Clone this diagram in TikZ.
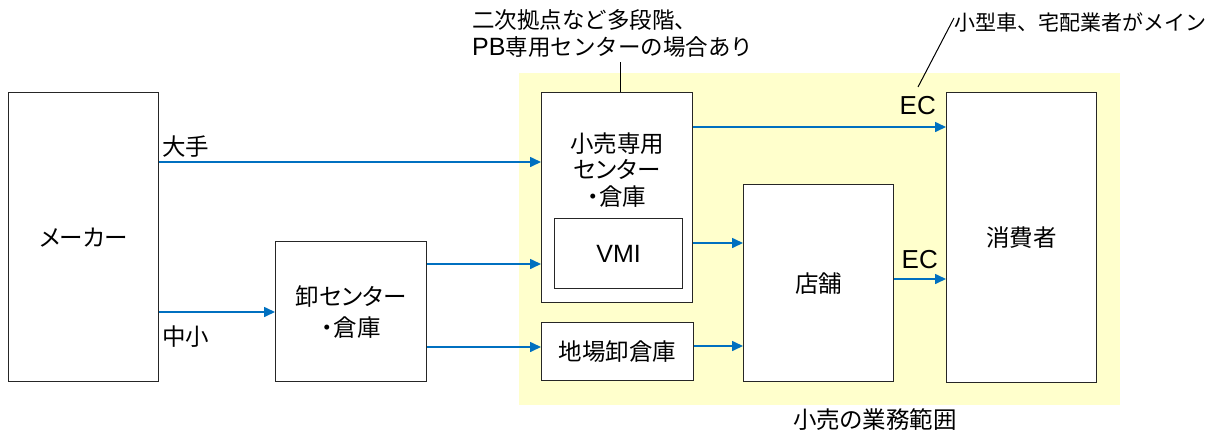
\documentclass[tikz,border=0pt]{standalone}
\usepackage{fontspec}
\setmainfont[RawFeature=+palt]{Noto Sans CJK JP}
\newfontfamily\cjkfix{Noto Sans CJK JP}
\newfontfamily\lat{Liberation Sans}
\usetikzlibrary{arrows.meta}
\definecolor{arrblue}{HTML}{0070C0}
\definecolor{zone}{HTML}{FFFFCC}
\begin{document}
\begin{tikzpicture}[x=1pt,y=-1pt,
  box/.style={draw=black!85,line width=1.3pt,fill=white,anchor=north west,inner sep=0pt,align=center,font=\fontsize{23.5}{31}\selectfont},
  arr/.style={draw=arrblue,line width=1.6pt,-{Triangle[length=11pt,width=10pt]}},
  lbl/.style={inner sep=0pt,font=\fontsize{23.5}{27}\selectfont},
  call/.style={draw=black,line width=1pt}]
\useasboundingbox (0,0) rectangle (1210,434);
\fill[zone] (519,73) rectangle (1120,405);
\node[box,minimum width=150pt,minimum height=289pt] (maker) at (8,92) {メーカー};
\node[box,minimum width=151pt,minimum height=140pt] (oroshi) at (275,241) {卸センター\\・倉庫};
\node[box,minimum width=151pt,minimum height=210pt] (kouri) at (541,92) {};
\node[lbl,align=center,font=\fontsize{23.5}{26.5}\selectfont] (kouritxt) at (617,170) {小売専用\\センター\\・倉庫};
\node[box,minimum width=128pt,minimum height=70pt] (vmi) at (554,218) {\lat\fontsize{25}{30}\selectfont VMI};
\node[box,minimum width=152pt,minimum height=58pt] (jiba) at (541,322) {地場卸倉庫};
\node[box,minimum width=150pt,minimum height=197pt] (tenpo) at (743,184) {店舗};
\node[box,minimum width=150pt,minimum height=290pt] (shohi) at (946,92) {消費者};
% arrows
\draw[arr] (maker.east |- 0,162) -- (kouri.west |- 0,162);
\draw[arr] (maker.east |- 0,312) -- (oroshi.west |- 0,312);
\draw[arr] (oroshi.east |- 0,264) -- (kouri.west |- 0,264);
\draw[arr] (oroshi.east |- 0,347) -- (jiba.west |- 0,347);
\draw[arr] (kouri.east |- 0,127) -- (shohi.west |- 0,127);
\draw[arr] (kouri.east |- 0,243) -- (tenpo.west |- 0,243);
\draw[arr] (jiba.east |- 0,346) -- (tenpo.west |- 0,346);
\draw[arr] (tenpo.east |- 0,279) -- (shohi.west |- 0,279);
% labels
\node[lbl,anchor=west] (oote) at (162,147) {大手};
\node[lbl,anchor=west] (chusho) at (162,337) {中小};
\node[lbl,anchor=east,font=\lat\fontsize{26}{30}\selectfont] (ec1) at (936,106) {EC};
\node[lbl,anchor=east,font=\lat\fontsize{26}{30}\selectfont] (ec2) at (938,260) {EC};
\node[lbl] (gyomu) at (875,420) {小売の業務範囲};
\node[lbl,anchor=west,font=\cjkfix\fontsize{22.5}{27}\selectfont] (note1a) at (472,20) {二次拠点など多段階、};
\node[lbl,anchor=west,font=\cjkfix\fontsize{22.5}{27}\selectfont] (note1b) at (472,47) {{\lat\fontsize{25}{27}\selectfont PB}専用センターの場合あり};
\node[lbl,anchor=west,font=\cjkfix\fontsize{21}{27}\selectfont] (note2) at (954,22) {小型車、宅配業者がメイン};
\coordinate (c1) at (620,62);
\draw[call] (c1) -- (kouri.north -| c1);
\coordinate (c2a) at (918,87);
\coordinate (c2b) at (954,18);
\draw[call] (c2a) -- (c2b);
\end{tikzpicture}
\end{document}
